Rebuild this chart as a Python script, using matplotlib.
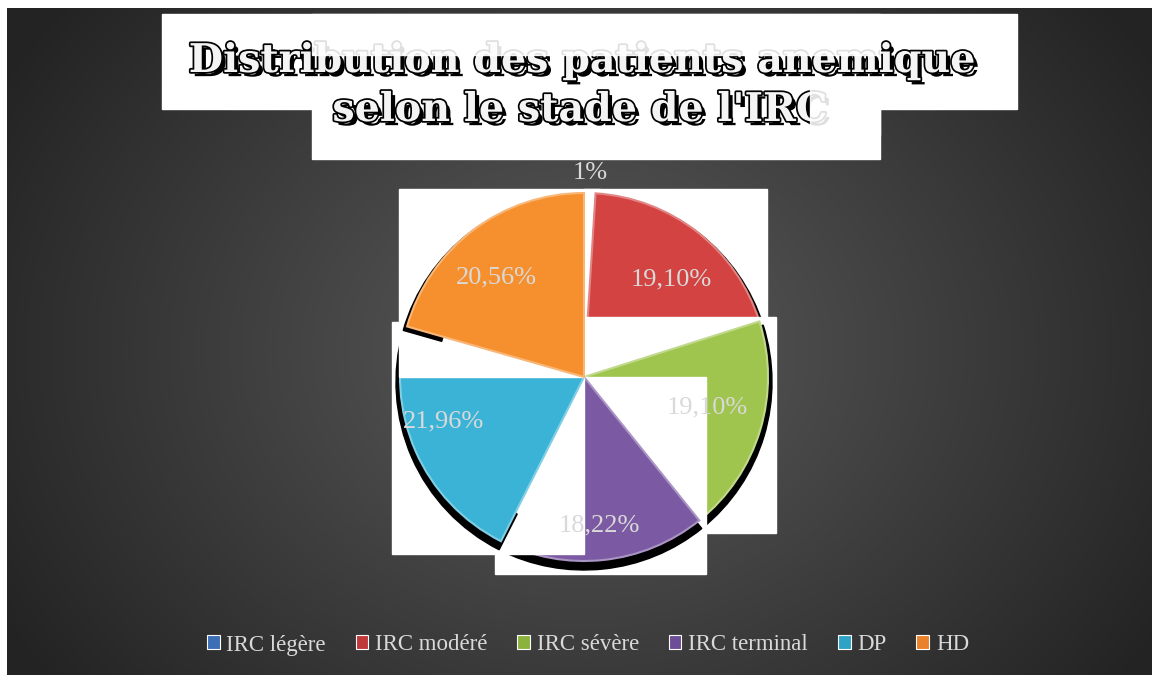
import numpy as np
import matplotlib
matplotlib.use("Agg")
import matplotlib.pyplot as plt
import matplotlib.patheffects as pe
from matplotlib.patches import Rectangle, Wedge, Patch
from matplotlib.colors import to_rgb

# ---- data ----
categories = ["IRC légère", "IRC modéré", "IRC sévère", "IRC terminal", "DP", "HD"]
values = [1.0, 19.10, 19.10, 18.22, 21.96, 20.56]
pct_labels = ["1%", "19,10%", "19,10%", "18,22%", "21,96%", "20,56%"]
title_lines = ["Distribution des patients anemique", "selon le stade de l'IRC"]

colors = ["#4a7fc1", "#d24341", "#9fc54e", "#7b5aa3", "#3bb3d6", "#f6902e"]
legend_colors = ["#3d6fb4", "#c0393a", "#8cb23e", "#6c4e96", "#2fa3c6", "#e9822a"]
# where each percentage sits (fraction of radius, angle shift in degrees)
label_dist = [1.11, 0.71, 0.69, 0.81, 0.80, 0.72]
label_shift = [0, -4, 3, 0, -6, 4.5]

W, H = 1152, 675
fig = plt.figure(figsize=(W / 100, H / 100), dpi=100, facecolor="white")
ax = fig.add_axes([0, 0, 1, 1])

# dark radial background (chart area starts a few px in from top/left)
gx, gy = np.meshgrid(np.linspace(7, W, 400), np.linspace(8, H, 260))
d = np.sqrt(((gx - 585) / 640) ** 2 + ((gy - 350) / 520) ** 2)
g = np.clip(0.36 - 0.21 * d, 0.14, 1)
ax.imshow(np.dstack([g, g, g]), extent=(7, W, 0, H - 8), origin="upper",
          aspect="auto", zorder=0, interpolation="bilinear")

# ---- pie ----
cx, cy, R = 584, H - 377, 184
wedges, _ = ax.pie(values, colors=colors, startangle=90, counterclock=False,
                   center=(cx, cy), radius=R, frame=False)
ax.set_xlim(0, W)
ax.set_ylim(0, H)
ax.axis("off")

for i, w in enumerate(wedges):
    base = np.array(to_rgb(colors[i]))
    w.set_edgecolor(tuple(base + (1 - base) * 0.35))
    w.set_linewidth(1.5)
    # each slice got rendered as a picture on its own white box, with its shadow
    sh = Wedge((cx, cy - 5), R + 4, w.theta1, w.theta2, width=40, color="black")
    ext_w = w.get_path().transformed(w.get_patch_transform()).get_extents()
    ext_s = sh.get_path().transformed(sh.get_patch_transform()).get_extents()
    x0 = min(ext_w.x0, ext_s.x0) - 4
    y0 = min(ext_w.y0, ext_s.y0) - 4
    x1 = max(ext_w.x1, ext_s.x1) + 4
    y1 = max(ext_w.y1, ext_s.y1) + 4
    x0 = cx if abs(ext_w.x0 - cx) < 1 else x0
    x1 = cx if abs(ext_w.x1 - cx) < 1 else x1
    y0 = cy if abs(ext_w.y0 - cy) < 1 else y0
    y1 = cy if abs(ext_w.y1 - cy) < 1 else y1
    ax.add_patch(Rectangle((x0, y0), x1 - x0, y1 - y0, color="white", zorder=2 + 3 * i))
    sh.set_zorder(3 + 3 * i)
    ax.add_patch(sh)
    w.set_zorder(4 + 3 * i)

for i, w in enumerate(wedges):
    ang = np.deg2rad((w.theta1 + w.theta2) / 2 + label_shift[i])
    ax.text(cx + R * label_dist[i] * np.cos(ang), cy + R * label_dist[i] * np.sin(ang),
            pct_labels[i], ha="center", va="center", color="#d9d9d9",
            fontsize=19, family="Liberation Serif", zorder=40)

# ---- title with its white boxes ----
ax.add_patch(Rectangle((162, H - 109), 855, 95, color="white", zorder=2))
ax.add_patch(Rectangle((312, H - 159), 568, 50, color="white", zorder=2))
effects = [pe.withSimplePatchShadow(offset=(3, -3), shadow_rgbFace="black", alpha=1),
           pe.Stroke(linewidth=2.5, foreground="black"), pe.Normal()]
ax.text(582, H - 72, title_lines[0], ha="center", va="baseline", fontsize=28.5,
        fontweight="bold", family="DejaVu Serif", color="#f4f4f4",
        path_effects=effects, zorder=3)
ax.text(580, H - 121, title_lines[1], ha="center", va="baseline", fontsize=28.5,
        fontweight="bold", family="DejaVu Serif", color="#f4f4f4",
        path_effects=effects, zorder=3)
# washed-out parts of the title
ax.add_patch(Rectangle((312, H - 55), 568, 41, color="white", alpha=0.88, zorder=4))
ax.add_patch(Rectangle((810, H - 135), 70, 55, color="white", alpha=0.88, zorder=4))

# ---- legend ----
handles = [Patch(facecolor=c, edgecolor="white", linewidth=0.8) for c in legend_colors]
ax.legend(handles, categories, loc="center", bbox_to_anchor=(588 / W, 30 / H),
          ncol=6, frameon=False, labelcolor="#d9d9d9",
          handlelength=0.55, handleheight=0.55, handletextpad=0.3,
          columnspacing=1.3, prop={"family": "Liberation Serif", "size": 16.5})

fig.savefig("out.png", dpi=100, facecolor="white")
